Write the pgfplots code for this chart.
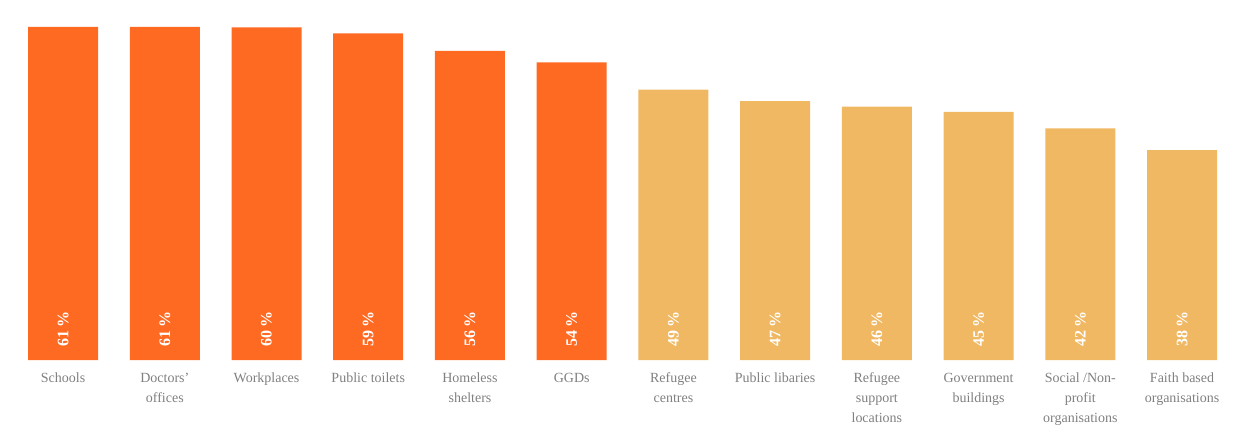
\documentclass[border=0pt]{standalone}
\usepackage{pgfplots}
\pgfplotsset{compat=1.18}
\usepackage{pgfplotstable}
\usepackage{fontspec}
\setmainfont{Liberation Serif}
\definecolor{darkor}{HTML}{FF6A23}
\definecolor{lightor}{HTML}{F0B862}
\definecolor{lab}{HTML}{808080}
\pgfplotstableread{
x y lbl
0 61.0 61
1 61.0 61
2 60.9 60
3 59.8 59
4 56.6 56
5 54.5 54
}\dark
\pgfplotstableread{
x y lbl
6 49.5 49
7 47.4 47
8 46.4 46
9 45.4 45
10 42.4 42
11 38.4 38
}\light
\begin{document}
\begin{tikzpicture}
\begin{axis}[
  scale only axis, width=619pt, height=180pt,
  xmin=-0.62, xmax=11.55, ymin=0, ymax=65.9,
  axis line style={draw=none},
  ymajorticks=false,
  major tick length=0pt,
  xtick={0,...,11},
  xticklabels={Schools, Doctors'\\offices, Workplaces, Public toilets, Homeless\\shelters, GGDs, Refugee\\centres, Public libaries, Refugee\\support\\locations, Government\\buildings, Social /Non-\\profit\\organisations, Faith based\\organisations},
  xticklabel style={align=center, font=\fontsize{7}{10}\selectfont, text=lab, yshift=-3pt},
  clip=false,
  lbl/.style={draw=none, mark=none, point meta=explicit symbolic,
    nodes near coords={\pgfplotspointmeta\,\%},
    every node near coord/.append style={rotate=90, anchor=west, font=\fontsize{8}{9}\selectfont\bfseries, text=white, inner sep=0pt, xshift=6.5pt}},
]
\addplot[ybar, bar width=35pt, fill=darkor, draw=none] table[x=x,y=y] {\dark};
\addplot[ybar, bar width=35pt, fill=lightor, draw=none] table[x=x,y=y] {\light};
\addplot[lbl] table[x=x, y expr=0, meta=lbl] {\dark};
\addplot[lbl] table[x=x, y expr=0, meta=lbl] {\light};
\coordinate (bl) at (rel axis cs:0,0);
\coordinate (tr) at (rel axis cs:1,1);
\end{axis}
\pgfresetboundingbox
\path (bl) ++(0,-37pt) rectangle (tr);
\end{tikzpicture}
\end{document}
